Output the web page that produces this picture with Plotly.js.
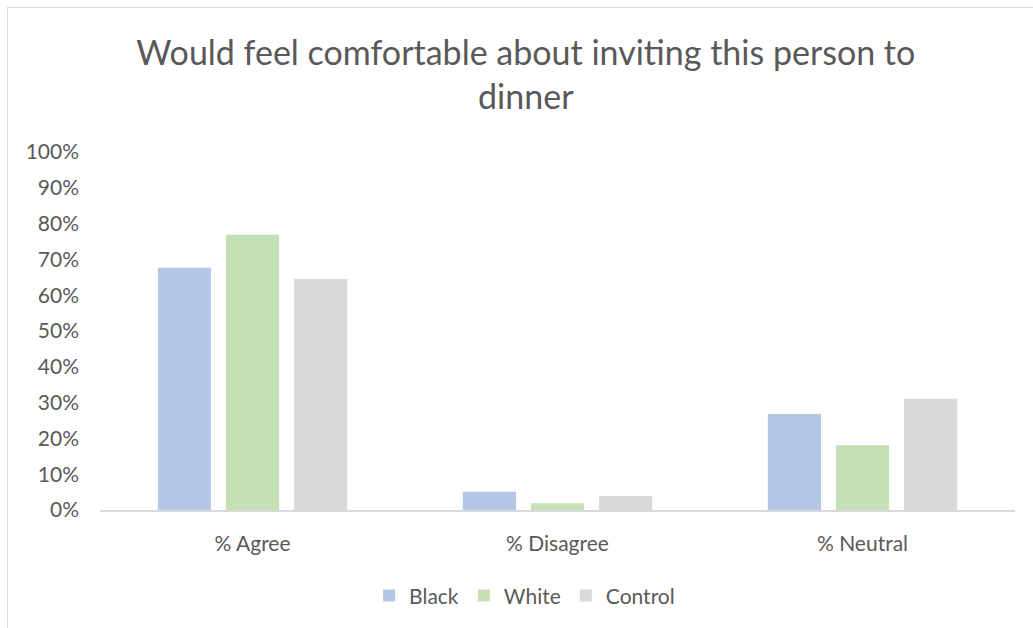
<!DOCTYPE html>
<html>
<head>
<meta charset="utf-8">
<script src="https://cdn.plot.ly/plotly-3.0.1.min.js"></script>
<style>
html,body{margin:0;padding:0;background:#fff;overflow:hidden;}
#chart{position:absolute;left:0;top:0;width:1033px;height:628px;}
#frame{position:absolute;left:7px;top:7px;width:1100px;height:700px;border-left:1px solid #d9d9d9;border-top:1px solid #d9d9d9;pointer-events:none;}
</style>
</head>
<body>
<div id="chart"></div>
<div id="frame"></div>
<script>
const categories = ["% Agree", "% Disagree", "% Neutral"];
const seriesNames = ["Black", "White", "Control"];
const black = [0.677, 0.051, 0.268];
const white = [0.769, 0.019, 0.181];
const control = [0.645, 0.039, 0.311];
const colors = ["#B4C7E7", "#C5E0B4", "#D9D9D9"];
const tickVals = [0, 0.1, 0.2, 0.3, 0.4, 0.5, 0.6, 0.7, 0.8, 0.9, 1.0];
const tickText = ["0%", "10%", "20%", "30%", "40%", "50%", "60%", "70%", "80%", "90%", "100%"];

const values = [black, white, control];
const font = "Lato, 'Open Sans', sans-serif";
const traces = seriesNames.map((n, i) => ({
  type: "bar",
  name: n,
  x: categories,
  y: values[i],
  marker: {color: colors[i], line: {color: "#ffffff", width: 0}},
  hoverinfo: "x+y+name"
}));

const layout = {
  width: 1033, height: 628,
  margin: {l: 100, r: 18, t: 152, b: 118},
  paper_bgcolor: "#ffffff",
  plot_bgcolor: "#ffffff",
  font: {family: font, color: "#595959", size: 21},
  title: {
    text: "Would feel comfortable about inviting this person to<br>dinner",
    font: {family: font, size: 34, color: "#595959"},
    x: 0.509, xref: "container", xanchor: "center",
    y: 0.897, yref: "container", yanchor: "top"
  },
  barmode: "group",
  bargap: 0.33,
  bargroupgap: 0.22,
  xaxis: {
    showgrid: false, showline: true, linecolor: "#D9D9D9", linewidth: 1.5,
    ticks: "", ticklabelstandoff: 14,
    tickfont: {family: font, size: 21, color: "#595959"},
    fixedrange: true
  },
  yaxis: {
    range: [0, 1], tickvals: tickVals, ticktext: tickText,
    showgrid: false, zeroline: false, showline: false,
    ticks: "", ticklabelstandoff: 20,
    tickfont: {family: font, size: 21, color: "#595959"},
    fixedrange: true
  },
  showlegend: true,
  legend: {
    orientation: "h", x: 0.464, xanchor: "center", y: -0.24, yanchor: "middle",
    font: {family: font, size: 21, color: "#595959"},
    itemwidth: 30, traceorder: "normal"
  }
};

Plotly.newPlot("chart", traces, layout, {displayModeBar: false, staticPlot: true});
</script>
</body>
</html>
